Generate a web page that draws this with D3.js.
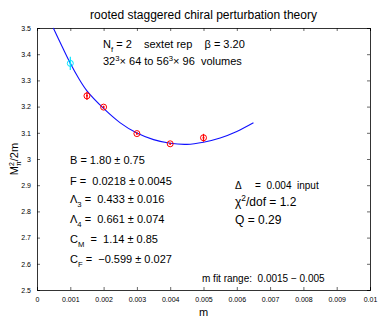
<!DOCTYPE html>
<html>
<head>
<meta charset="utf-8">
<script src="https://cdn.jsdelivr.net/npm/d3@7"></script>
<style>
  body { margin: 0; background: #fff; }
  svg text { font-family: "Liberation Sans", Arial, Helvetica, sans-serif; fill: #000; }
</style>
</head>
<body>
<svg id="chart"></svg>
<script>
// Measured points
const massValues = [0.001, 0.0015, 0.002, 0.003, 0.004, 0.005];
const ratioValues = [3.365, 3.241, 3.198, 3.097, 3.058, 3.081];
const ratioErrors = [0.025, 0.016, 0.005, 0.004, 0.004, 0.015];
const pointColors = ["#00e5ff", "#ff0000", "#ff0000", "#ff0000", "#ff0000", "#ff0000"];

// Fit curve
const fitMass = [0.00049, 0.00075, 0.001, 0.00125, 0.0015, 0.002, 0.0025, 0.003, 0.0035, 0.004, 0.0045, 0.005, 0.0055, 0.006, 0.0065];
const fitRatio = [3.5, 3.43, 3.365, 3.308, 3.26, 3.193, 3.138, 3.099, 3.074, 3.060, 3.056, 3.064, 3.080, 3.105, 3.138];

// Axis ticks
const xTicks = [0, 0.001, 0.002, 0.003, 0.004, 0.005, 0.006, 0.007, 0.008, 0.009, 0.01];
const yTicks = [2.5, 2.6, 2.7, 2.8, 2.9, 3, 3.1, 3.2, 3.3, 3.4, 3.5];

const W = 381, H = 327;
const margin = { top: 28, right: 11, bottom: 37, left: 37 };
const width = W - margin.left - margin.right;
const height = H - margin.top - margin.bottom;

const svg = d3.select("#chart").attr("width", W).attr("height", H);
const g = svg.append("g").attr("transform", `translate(${margin.left},${margin.top})`);

const x = d3.scaleLinear().domain([0, 0.01]).range([0, width]);
const y = d3.scaleLinear().domain([2.5, 3.5]).range([height, 0]);

// Axes (ticks pointing inward, MATLAB style)
const tickFont = "7px";
g.append("g")
  .attr("transform", `translate(0,${height})`)
  .call(d3.axisBottom(x).tickValues(xTicks).tickSize(-3).tickPadding(6).tickFormat(d => d === 0 ? "0" : d3.format("")(+d.toFixed(3))))
  .call(a => a.selectAll("text").style("font-size", tickFont).attr("dy", "0.9em"));
g.append("g")
  .call(d3.axisTop(x).tickValues(xTicks).tickSize(-3).tickFormat(""));
g.append("g")
  .call(d3.axisLeft(y).tickValues(yTicks).tickSize(-3).tickPadding(6).tickFormat(d => d3.format("")(+d.toFixed(1))))
  .call(a => a.selectAll("text").style("font-size", tickFont));
g.append("g")
  .attr("transform", `translate(${width},0)`)
  .call(d3.axisRight(y).tickValues(yTicks).tickSize(-3).tickFormat(""));
g.selectAll(".domain").attr("stroke", "#000").attr("stroke-width", 0.8);
g.selectAll(".tick line").attr("stroke", "#000").attr("stroke-width", 0.6);

// Fit curve
const fit = fitMass.map((m, i) => ({ m: m, v: fitRatio[i] }));
g.append("path")
  .datum(fit)
  .attr("d", d3.line().x(d => x(d.m)).y(d => y(d.v)).curve(d3.curveCatmullRom))
  .attr("fill", "none")
  .attr("stroke", "#1010ff")
  .attr("stroke-width", 1.1);

// Points with error bars
const pts = massValues.map((m, i) => ({ m: m, v: ratioValues[i], e: ratioErrors[i], c: pointColors[i] }));
const pg = g.selectAll(".pt").data(pts).enter().append("g").attr("class", "pt");
pg.append("line")
  .attr("x1", d => x(d.m)).attr("x2", d => x(d.m))
  .attr("y1", d => y(d.v - d.e)).attr("y2", d => y(d.v + d.e))
  .attr("stroke", d => d.c).attr("stroke-width", 1.2);
pg.append("circle")
  .attr("cx", d => x(d.m)).attr("cy", d => y(d.v)).attr("r", 3)
  .attr("fill", "none").attr("stroke", d => d.c).attr("stroke-width", 1);
pg.append("circle")
  .attr("cx", d => x(d.m)).attr("cy", d => y(d.v)).attr("r", 1)
  .attr("fill", d => d.c);

// Title and axis labels
svg.append("text").attr("x", margin.left + width / 2).attr("y", 19)
  .attr("text-anchor", "middle").style("font-size", "12px")
  .text("rooted staggered chiral perturbation theory");

svg.append("text").attr("x", margin.left + width / 2).attr("y", 316)
  .attr("text-anchor", "middle").style("font-size", "11px").text("m");

const yl = svg.append("text")
  .attr("transform", `translate(18,${margin.top + height / 2}) rotate(-90)`)
  .attr("text-anchor", "middle").style("font-size", "11px");
yl.append("tspan").text("M");
yl.append("tspan").attr("dy", -4).style("font-size", "7px").text("2");
yl.append("tspan").attr("dx", -4).attr("dy", 7).style("font-size", "7px").text("π");
yl.append("tspan").attr("dy", -3).text("/2m");

// Helper for text with sub/superscripts: parts = [[text, kind]]
function richText(xp, yp, size, parts) {
  const t = svg.append("text").attr("x", xp).attr("y", yp).style("font-size", size + "px")
    .attr("xml:space", "preserve");
  let shift = 0;
  parts.forEach(p => {
    const s = t.append("tspan").text(p[0]);
    let target = 0;
    if (p[1] === "sub") { target = size * 0.35; s.style("font-size", (size * 0.7) + "px"); }
    if (p[1] === "sup") { target = -size * 0.4; s.style("font-size", (size * 0.7) + "px"); }
    s.attr("dy", target - shift);
    shift = target;
  });
  return t;
}

// Header lines
richText(103, 48, 11, [["N"], ["f", "sub"], [" = 2    sextet rep    β = 3.20"]]);
richText(103, 65, 11, [["32"], ["3", "sup"], ["× 64 to 56"], ["3", "sup"], ["× 96  volumes"]]);

// Fit parameters
const leftX = 70;
richText(leftX, 164, 11, [["B = 1.80 ± 0.75"]]);
richText(leftX, 185, 11, [["F =  0.0218 ± 0.0045"]]);
richText(leftX, 203, 11, [["Λ"], ["3", "sub"], [" =  0.433 ± 0.016"]]);
richText(leftX, 223, 11, [["Λ"], ["4", "sub"], [" =  0.661 ± 0.074"]]);
richText(leftX, 243, 11, [["C"], ["M", "sub"], ["  =  1.14 ± 0.85"]]);
richText(leftX, 263, 11, [["C"], ["F", "sub"], [" =  −0.599 ± 0.027"]]);

const rightX = 235;
richText(rightX, 189, 10, [["Δ     =  0.004  input"]]);
richText(rightX, 206, 12, [["χ"], ["2", "sup"], ["/dof = 1.2"]]);
richText(rightX, 224, 12, [["Q = 0.29"]]);
richText(202, 282, 10, [["m fit range:  0.0015 − 0.005"]]);
</script>
</body>
</html>
